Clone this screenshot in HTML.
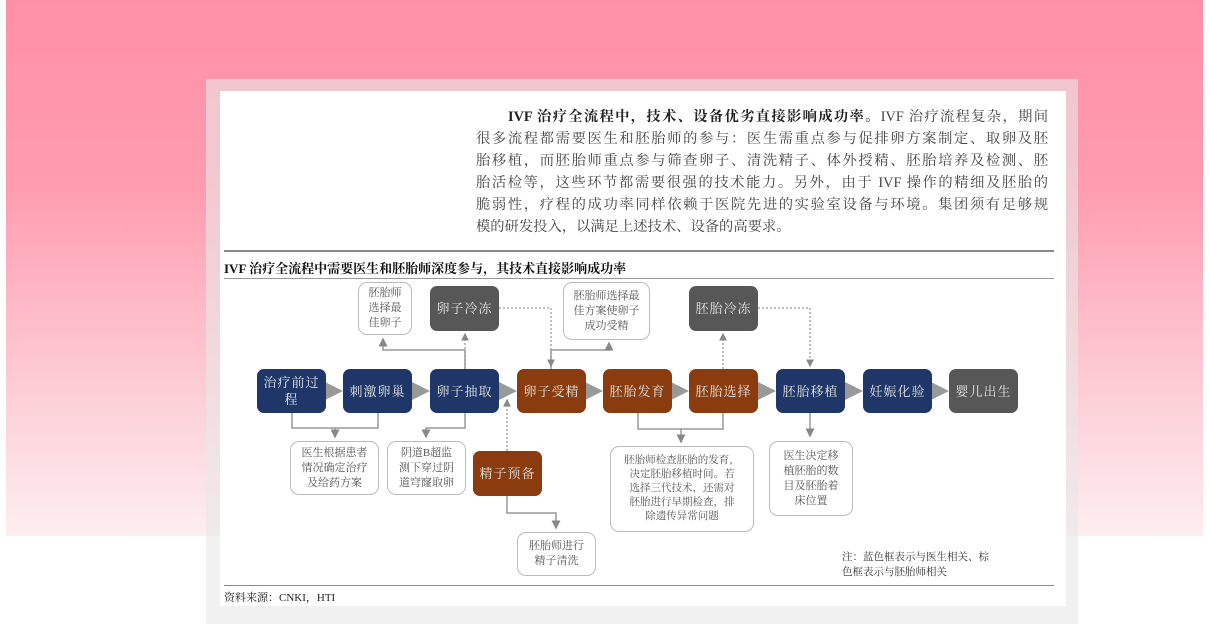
<!DOCTYPE html>
<html><head><meta charset="utf-8"><style>
*{margin:0;padding:0;box-sizing:border-box}
body{width:1209px;height:618px;position:relative;overflow:hidden;background:#fff;font-family:"Liberation Serif","Noto Serif CJK SC",serif}
.bg{position:absolute;left:6px;top:0;width:1197px;height:536px;background:linear-gradient(#ff8fa6 0%,#ff9cb0 35%,#fdd0d8 75%,#fdeef0 100%)}
.frame{position:absolute;left:206px;top:79px;width:872px;height:545px;background:rgba(232,232,232,0.6)}
.inner{position:absolute;left:220px;top:91px;width:846px;height:515px;background:#fff}
.a{position:absolute}
.p{position:absolute;left:476px;top:106px;width:572px;font-size:14.3px;line-height:22px;color:#444;text-align:justify;text-align-last:justify}
.n{position:absolute;border-radius:7px;color:#e6e6e6;font-size:13px;display:flex;align-items:center;justify-content:center;text-align:center;line-height:17px;letter-spacing:1px}
.bl{background:#1e3668}.br{background:#8a3c0e}.gy{background:#575757}
.w{position:absolute;border:1px solid #bbb;border-radius:9px;background:#fff;color:#555;font-size:11px;line-height:15px;display:flex;align-items:center;justify-content:center;text-align:center;padding:2px 4px}
</style></head><body>
<div class="bg"></div>
<div class="frame"></div>
<div class="inner"></div>
<div class="p"><b style="color:#222;margin-left:32px">IVF 治疗全流程中，技术、设备优劣直接影响成功率。</b>IVF 治疗流程复杂，期间<br>很多流程都需要医生和胚胎师的参与：医生需重点参与促排卵方案制定、取卵及胚<br>胎移植，而胚胎师重点参与筛查卵子、清洗精子、体外授精、胚胎培养及检测、胚<br>胎活检等，这些环节都需要很强的技术能力。另外，由于 IVF 操作的精细及胚胎的<br>脆弱性，疗程的成功率同样依赖于医院先进的实验室设备与环境。集团须有足够规<br><span style="text-align-last:left;display:inline-block">模的研发投入，以满足上述技术、设备的高要求。</span></div>
<div class="a" style="left:224px;top:250px;width:830px;height:2px;background:#888"></div>
<div class="a" style="left:224px;top:258px;font-size:13px;font-weight:bold;color:#111;white-space:nowrap">IVF 治疗全流程中需要医生和胚胎师深度参与，其技术直接影响成功率</div>
<div class="a" style="left:224px;top:278px;width:830px;height:1px;background:#999"></div>
<div class="a" style="left:224px;top:585px;width:830px;height:1px;background:#888"></div>
<div class="a" style="left:224px;top:589px;font-size:11px;color:#222">资料来源：CNKI，HTI</div>

<svg class="a" style="left:0;top:0" width="1209" height="618">
<defs>
<marker id="m" markerWidth="6" markerHeight="6" refX="5" refY="3" orient="auto"><path d="M0,0L6,3L0,6z" fill="#888"/></marker>
<marker id="t" markerWidth="4" markerHeight="4" refX="3" refY="2" orient="auto"><path d="M0,0L4,2L0,4z" fill="#999"/></marker>
</defs>
<g stroke="#999" stroke-width="5">
<line x1="326" y1="391" x2="338" y2="391" marker-end="url(#t)"/>
<line x1="412" y1="391" x2="425" y2="391" marker-end="url(#t)"/>
<line x1="499" y1="391" x2="512" y2="391" marker-end="url(#t)"/>
<line x1="586" y1="391" x2="598" y2="391" marker-end="url(#t)"/>
<line x1="672" y1="391" x2="684" y2="391" marker-end="url(#t)"/>
<line x1="758" y1="391" x2="771" y2="391" marker-end="url(#t)"/>
<line x1="845" y1="391" x2="858" y2="391" marker-end="url(#t)"/>
<line x1="932" y1="391" x2="944" y2="391" marker-end="url(#t)"/>
</g>
<g fill="none" stroke="#999" stroke-width="1.5">
<polyline points="465,369 465,350 383,350 383,339" marker-end="url(#m)"/>
<polyline points="551,369 551,350 609,350 609,343" marker-end="url(#m)"/>
<polyline points="292,413 292,428 378,428 378,413"/>
<polyline points="335,428 335,437" marker-end="url(#m)"/>
<polyline points="465,413 465,428 426,428 426,437" marker-end="url(#m)"/>
<polyline points="507,496 507,513 556,513 556,528" marker-end="url(#m)"/>
<polyline points="638,413 638,429 723,429 723,413"/>
<polyline points="681,429 681,442" marker-end="url(#m)"/>
<polyline points="810,413 810,436" marker-end="url(#m)"/>
</g>
<g fill="none" stroke="#999" stroke-width="1.3" stroke-dasharray="2,2">
<polyline points="465,369 465,334" marker-end="url(#m)"/>
<polyline points="499,308 551,308 551,366" marker-end="url(#m)"/>
<polyline points="723,369 723,334" marker-end="url(#m)"/>
<polyline points="758,308 810,308 810,366" marker-end="url(#m)"/>
<polyline points="507,451 507,400" marker-end="url(#m)"/>
</g>
</svg>

<div class="n bl" style="left:257px;top:369px;width:69px;height:44px">治疗前过<br>程</div>
<div class="n bl" style="left:343px;top:369px;width:69px;height:44px">刺激卵巢</div>
<div class="n bl" style="left:430px;top:369px;width:69px;height:44px">卵子抽取</div>
<div class="n br" style="left:517px;top:369px;width:69px;height:44px">卵子受精</div>
<div class="n br" style="left:603px;top:369px;width:69px;height:44px">胚胎发育</div>
<div class="n br" style="left:689px;top:369px;width:69px;height:44px">胚胎选择</div>
<div class="n bl" style="left:776px;top:369px;width:69px;height:44px">胚胎移植</div>
<div class="n bl" style="left:863px;top:369px;width:69px;height:44px">妊娠化验</div>
<div class="n gy" style="left:949px;top:369px;width:69px;height:44px">婴儿出生</div>
<div class="n gy" style="left:430px;top:286px;width:69px;height:45px">卵子冷冻</div>
<div class="n gy" style="left:689px;top:286px;width:69px;height:45px">胚胎冷冻</div>
<div class="n br" style="left:473px;top:451px;width:69px;height:45px">精子预备</div>

<div class="w" style="left:358px;top:282px;width:54px;height:53px">胚胎师<br>选择最<br>佳卵子</div>
<div class="w" style="left:563px;top:282px;width:87px;height:58px">胚胎师选择最<br>佳方案使卵子<br>成功受精</div>
<div class="w" style="left:290px;top:441px;width:89px;height:54px">医生根据患者<br>情况确定治疗<br>及给药方案</div>
<div class="w" style="left:387px;top:441px;width:79px;height:54px">阴道B超监<br>测下穿过阴<br>道穹窿取卵</div>
<div class="w" style="left:517px;top:532px;width:79px;height:44px">胚胎师进行<br>精子清洗</div>
<div class="w" style="left:610px;top:446px;width:144px;height:86px;font-size:10.5px;line-height:14px">胚胎师检查胚胎的发育，<br>决定胚胎移植时间。若<br>选择三代技术，还需对<br>胚胎进行早期检查，排<br>除遗传异常问题</div>
<div class="w" style="left:769px;top:441px;width:84px;height:75px">医生决定移<br>植胚胎的数<br>目及胚胎着<br>床位置</div>
<div class="a" style="left:842px;top:550px;font-size:10.5px;line-height:15px;color:#333">注：蓝色框表示与医生相关、棕<br>色框表示与胚胎师相关</div>
</body></html>
